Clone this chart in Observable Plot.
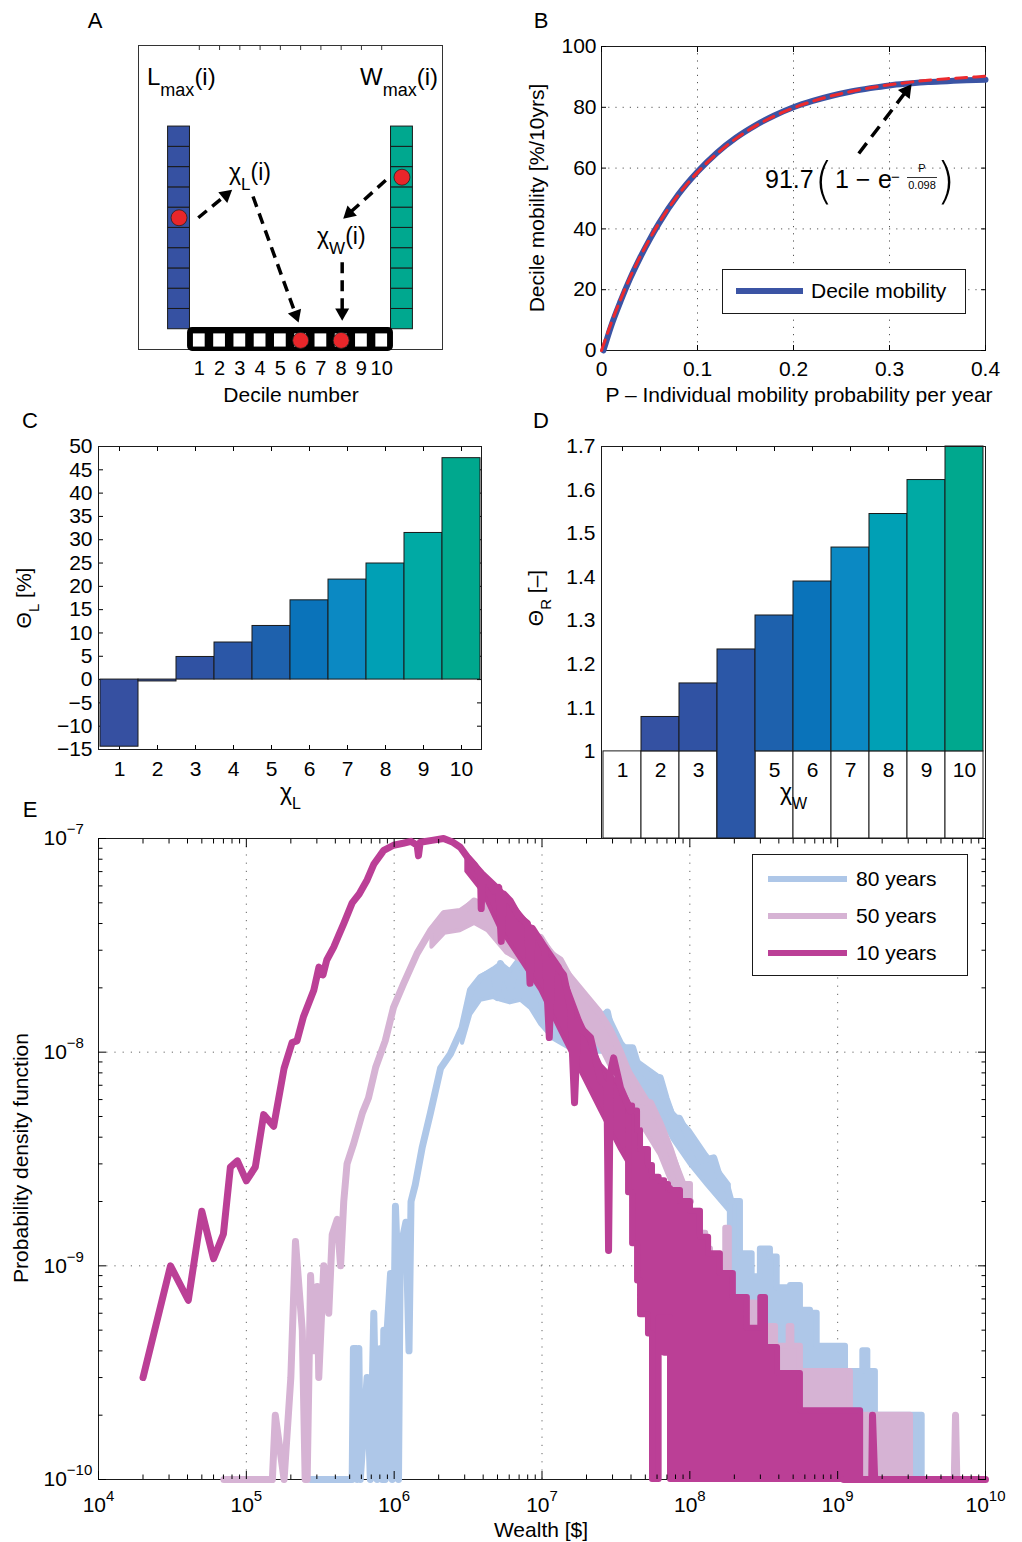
<!DOCTYPE html>
<html>
<head>
<meta charset="utf-8">
<script src="https://cdn.jsdelivr.net/npm/d3@7"></script>
<script src="https://cdn.jsdelivr.net/npm/@observablehq/plot@0.6"></script>
<style>
  html,body{margin:0;padding:0;background:#fff;}
  #fig{position:relative;width:1022px;height:1542px;overflow:hidden;background:#fff;font-family:"Liberation Sans",Arial,Helvetica,sans-serif;}
  #fig > svg{position:absolute;overflow:visible;}
</style>
</head>
<body>
<div id="fig"></div>
<script>
// ======================= DATA =======================
// Panel A (schematic)
const deciles = [1, 2, 3, 4, 5, 6, 7, 8, 9, 10];
const chiLExample = 6;   // decile of the loser (red dot)
const chiWExample = 8;   // decile of the winner (red dot)
const arrowsA = [
  {x1: 0.95, y1: 6.5, x2: 2.62, y2: 7.88},
  {x1: 3.65, y1: 7.55, x2: 5.9, y2: 1.33},
  {x1: 10.2, y1: 8.35, x2: 8.1, y2: 6.45},
  {x1: 8.05, y1: 4.3, x2: 8.05, y2: 1.42}
];

// Panel B
const pBlue = [0.002, 0.01, 0.02, 0.03, 0.04, 0.05, 0.06, 0.08, 0.10, 0.12, 0.14, 0.16, 0.18, 0.20, 0.22, 0.24, 0.26, 0.28, 0.30, 0.32, 0.34, 0.36, 0.38, 0.40];
const decileMobility = [0, 8.0, 16.3, 23.8, 30.4, 36.4, 41.9, 51.3, 58.8, 65.0, 70.0, 74.0, 77.3, 80.0, 82.1, 83.8, 85.2, 86.3, 87.2, 87.8, 88.3, 88.6, 88.9, 89.1];
const pFit = [0, 0.01, 0.02, 0.03, 0.04, 0.05, 0.06, 0.08, 0.10, 0.12, 0.14, 0.16, 0.18, 0.20, 0.22, 0.24, 0.26, 0.28, 0.30, 0.32, 0.34, 0.36, 0.38, 0.40];
const fitMobility = [0, 8.9, 16.9, 24.2, 30.7, 36.6, 42.0, 51.2, 58.6, 64.7, 69.7, 73.8, 77.1, 79.8, 82.0, 83.8, 85.2, 86.4, 87.4, 88.2, 88.9, 89.4, 89.8, 90.2];
const bXTicks = [0, 0.1, 0.2, 0.3, 0.4];
const bYTicks = [0, 20, 40, 60, 80, 100];
const arrowB = [{x1: 0.268, y1: 64.8, x2: 0.323, y2: 87.6}];

// Panel C
const chiL = [1, 2, 3, 4, 5, 6, 7, 8, 9, 10];
const thetaL = [-14.4, -0.4, 4.85, 7.95, 11.5, 17.0, 21.45, 24.9, 31.45, 47.5];
const cYTicks = [-15, -10, -5, 0, 5, 10, 15, 20, 25, 30, 35, 40, 45, 50];

// Panel D
const chiW = [1, 2, 3, 4, 5, 6, 7, 8, 9, 10];
const thetaR = [1.0, 1.079, 1.156, 1.234, 1.312, 1.39, 1.468, 1.545, 1.623, 1.70];
const dBarBase = [1, 1, 1, 0.8, 1, 1, 1, 1, 1, 1];
const dYTicks = [1, 1.1, 1.2, 1.3, 1.4, 1.5, 1.6, 1.7];

const decileColors = ["#3650a1", "#3451a2", "#3052a3", "#2b57a7", "#1e61ad", "#0a73ba", "#0b89c3", "#00a0b5", "#00aaa4", "#00a88e"];

// Panel E : [wealth, pdf]  (1e-10 = plotted floor)
const line80 = [
  [2.72e5,1e-10],[5.2e5,1e-10],[5.3e5,4.1e-10],[5.55e5,4.1e-10],[5.62e5,1e-10],[5.77e5,4.1e-10],[5.9e5,1e-10],
  [6.56e5,3.0e-10],[6.9e5,1e-10],[7.28e5,6.0e-10],[7.67e5,1e-10],[8.09e5,4.1e-10],[8.3e5,1e-10],[8.51e5,5e-10],
  [8.7e5,1e-10],[8.97e5,5e-10],[9.45e5,9.2e-10],[9.7e5,1e-10],[1.02e6,1.9e-9],[1.05e6,1.1e-9],[1.07e6,1e-10],
  [1.1e6,1.2e-9],[1.2e6,1.6e-9],[1.26e6,4.0e-10],[1.3e6,2.0e-9],[1.39e6,2.4e-9],[1.55e6,3.6e-9],[1.76e6,5.2e-9],
  [2.06e6,8.4e-9],[2.4e6,9.8e-9],[2.88e6,1.3e-8],[3.28e6,1.95e-8],[3.84e6,2.24e-8],[4.72e6,2.4e-8],[5.0e6,1.8e-8],
  [5.24e6,2.6e-8],[6.12e6,2.0e-8],[7.16e6,2.8e-8],[8.36e6,2.1e-8],[9.77e6,1.8e-8],[1.06e7,1.45e-8],[1.23e7,1.5e-8],
  [1.44e7,1.4e-8],[1.9e7,1.2e-8],[2.5e7,1.3e-8],[2.77e7,1.54e-8],[3.0e7,1.2e-8],[3.5e7,1.05e-8],[4.1e7,1.05e-8],
  [4.5e7,8.5e-9],[5.2e7,7.8e-9],[6.3e7,7.6e-9],[6.9e7,6.1e-9],[7.7e7,4.9e-9],[8.5e7,4.9e-9],[9.5e7,4.2e-9],
  [1.06e8,3.6e-9],[1.2e8,3.1e-9],[1.45e8,3.2e-9],[1.62e8,2.5e-9],[1.8e8,2.3e-9],[1.9e8,2.0e-9]
];
// [wealth, low, high] : spread of the noisy histogram around its main trend
const noise80 = [
  [2.9e6,1.1e-8,1.35e-8],[3.3e6,1.5e-8,1.95e-8],[3.85e6,1.75e-8,2.25e-8],[4.7e6,1.8e-8,2.45e-8],[5.3e6,1.75e-8,2.6e-8],
  [6.1e6,1.7e-8,2.4e-8],[7.2e6,1.75e-8,2.8e-8],[8.4e6,1.6e-8,2.2e-8],[9.8e6,1.35e-8,1.9e-8],[1.2e7,1.15e-8,1.55e-8],
  [1.5e7,1.05e-8,1.45e-8],[2.0e7,1.0e-8,1.3e-8],[2.75e7,1.0e-8,1.55e-8],[3.5e7,8.0e-9,1.1e-8],[4.5e7,6.3e-9,9.0e-9],
  [6.0e7,5.5e-9,7.8e-9],[7.7e7,3.9e-9,5.2e-9],[1.0e8,3.0e-9,4.3e-9],[1.3e8,2.4e-9,3.3e-9],[1.85e8,1.8e-9,2.4e-9]
];
// [wealth, low, high] : range swept by the rapidly oscillating tail
const band80 = [
  [1.88e8,1e-10,2.0e-9],[2.2e8,1e-10,1.14e-9],[2.64e8,1e-10,8.9e-10],[3.0e8,1e-10,1.2e-9],[3.51e8,1e-10,1.1e-9],
  [3.9e8,1e-10,7.9e-10],[4.8e8,1e-10,8.1e-10],[5.6e8,1e-10,6.2e-10],[6.55e8,1e-10,6.0e-10],[7.27e8,1e-10,4.2e-10],
  [1.13e9,1e-10,3.2e-10],[1.48e9,1e-10,4.0e-10],[1.6e9,1e-10,3.2e-10],[1.8e9,1e-10,2.0e-10],[3.73e9,1e-10,2.0e-10]
];
const line50 = [
  [7.05e4,1e-10],[1.5e5,1e-10],[1.57e5,2.0e-10],[1.8e5,1e-10],[2.0e5,3.0e-10],[2.15e5,1.3e-9],[2.39e5,5e-10],
  [2.5e5,1e-10],[2.58e5,1e-10],[2.72e5,9e-10],[2.86e5,4e-10],[3.02e5,8e-10],[3.09e5,3e-10],[3.34e5,1.0e-9],
  [3.61e5,6e-10],[3.81e5,1.4e-9],[4.12e5,1.65e-9],[4.34e5,1.0e-9],[4.56e5,2.0e-9],[4.8e5,3.0e-9],[5.3e5,3.7e-9],
  [6.1e5,5.2e-9],[6.7e5,6.1e-9],[7.5e5,8.5e-9],[8.7e5,1.13e-8],[9.9e5,1.62e-8],[1.16e6,2.1e-8],[1.43e6,2.9e-8],
  [1.76e6,3.7e-8],[2.17e6,4.45e-8],[2.8e6,4.45e-8],[3.47e6,5.1e-8],[4.26e6,4.8e-8],[5.0e6,4.3e-8],[5.8e6,3.45e-8],
  [7.0e6,3.6e-8],[8.36e6,3.45e-8],[9.77e6,3.45e-8],[1.14e7,2.9e-8],[1.33e7,2.7e-8],[1.56e7,2.2e-8],[1.82e7,1.9e-8],
  [2.13e7,1.7e-8],[2.49e7,1.5e-8],[2.9e7,1.27e-8],[3.4e7,1.0e-8],[3.97e7,7.6e-9],[4.64e7,5.9e-9],[5.42e7,5.8e-9],
  [6.34e7,4.6e-9],[7.4e7,3.5e-9],[8.65e7,2.5e-9],[1.01e8,2.0e-9],
  [NaN,NaN],
  [6.15e9,1e-10],[6.27e9,2e-10],[6.4e9,1e-10]
];
const noise50 = [
  [1.8e6,3.1e-8,3.8e-8],[2.2e6,3.6e-8,4.5e-8],[2.8e6,3.7e-8,4.6e-8],[3.5e6,4.0e-8,5.1e-8],[4.3e6,3.7e-8,4.9e-8],
  [5.8e6,2.9e-8,3.9e-8],[7.0e6,2.7e-8,3.7e-8],[9.8e6,2.5e-8,3.45e-8],[1.56e7,1.6e-8,2.3e-8],[2.5e7,1.05e-8,1.55e-8],
  [4.0e7,5.5e-9,8.0e-9],[6.3e7,3.3e-9,4.8e-9],[1.0e8,1.5e-9,2.1e-9]
];
const band50 = [
  [8.65e7,1e-10,2.4e-9],[1.01e8,1e-10,1.8e-9],[1.18e8,1e-10,1.42e-9],[1.28e8,1e-10,1.2e-9],[1.38e8,1e-10,9.5e-10],
  [1.75e8,1e-10,1.5e-9],[1.85e8,1e-10,7.1e-10],[2.38e8,1e-10,6.7e-10],[2.78e8,1e-10,5.4e-10],[3.25e8,1e-10,5.2e-10],
  [3.8e8,1e-10,4.2e-10],[4.7e8,1e-10,5.2e-10],[4.9e8,1e-10,4.2e-10],[5.6e8,1e-10,3.2e-10],[1.22e9,1e-10,2.0e-10],
  [3.11e9,1e-10,2.0e-10]
];
const line10 = [
  [2.0e4,3.0e-10],[3.07e4,1.0e-9],[4.05e4,6.9e-10],[5.0e4,1.8e-9],[6.0e4,1.08e-9],[7.0e4,1.41e-9],[7.8e4,2.9e-9],
  [8.7e4,3.1e-9],[1.0e5,2.5e-9],[1.15e5,2.9e-9],[1.31e5,5.1e-9],[1.53e5,4.5e-9],[1.8e5,8.4e-9],[2.04e5,1.11e-8],
  [2.2e5,1.13e-8],[2.43e5,1.46e-8],[2.86e5,1.95e-8],[3.1e5,2.5e-8],[3.3e5,2.3e-8],[3.5e5,2.7e-8],[3.9e5,3.1e-8],
  [4.2e5,3.5e-8],[4.56e5,4.0e-8],[5.2e5,5.0e-8],[5.8e5,5.5e-8],[6.56e5,6.4e-8],[7.3e5,7.6e-8],[8.5e5,8.8e-8],
  [9.9e5,9.3e-8],[1.15e6,9.5e-8],[1.3e6,9.7e-8],[1.43e6,9.3e-8],[1.46e6,8.3e-8],[1.5e6,9.6e-8],[1.8e6,9.8e-8],
  [2.16e6,1.0e-7],[2.5e6,9.6e-8],[2.8e6,9.1e-8],[3.12e6,8.2e-8],[3.5e6,7.5e-8],[3.84e6,6.8e-8],[3.88e6,4.7e-8],
  [3.95e6,6.6e-8],[4.4e6,6.2e-8],[4.72e6,5.7e-8],[5.1e6,5.9e-8],[5.3e6,3.3e-8],[5.5e6,5.5e-8],[6.1e6,5.1e-8],
  [7.0e6,4.3e-8],[7.98e6,4.0e-8],[8.3e6,2.1e-8],[8.6e6,3.8e-8],[9.8e6,3.3e-8],[1.05e7,3.0e-8],[1.12e7,1.17e-8],
  [1.17e7,2.7e-8],[1.4e7,2.3e-8],[1.56e7,1.6e-8],[1.66e7,5.8e-9],[1.75e7,1.4e-8],[1.82e7,1.3e-8],[2.13e7,1.17e-8],
  [2.49e7,7.4e-9],[2.75e7,6.9e-9],[2.82e7,1.18e-9],[2.9e7,8.0e-9],[3.05e7,9.4e-9],[3.4e7,6.8e-9],[3.97e7,5.3e-9],
  [NaN,NaN],
  [1.1e9,1e-10],[1.7e9,1e-10],[1.72e9,2e-10],[1.78e9,1e-10],[1.0e10,1e-10]
];
const noise10 = [
  [3.1e6,7.0e-8,8.4e-8],[4.0e6,5.6e-8,6.9e-8],[5.2e6,3.8e-8,5.8e-8],[7.2e6,2.7e-8,4.4e-8],[9.8e6,1.95e-8,3.4e-8],
  [1.33e7,1.26e-8,2.5e-8],[1.82e7,8.2e-9,1.4e-8],[2.5e7,5.3e-9,8.7e-9],[3.4e7,3.5e-9,6.9e-9],[4.1e7,2.8e-9,5.4e-9]
];
const band10 = [
  [3.85e7,2.2e-9,5.6e-9],[4.1e7,1.27e-9,5.3e-9],[4.43e7,8.5e-10,4.3e-9],[4.64e7,5.9e-10,3.5e-9],[5.25e7,4.8e-10,2.95e-9],
  [5.59e7,1e-10,2.6e-9],[6.2e7,5.7e-10,2.5e-9],[6.75e7,3.9e-10,2.4e-9],[7.18e7,5.7e-10,2.3e-9],[7.4e7,1e-10,2.25e-9],
  [8.65e7,1e-10,2.0e-9],[1.01e8,1e-10,1.8e-9],[1.18e8,1e-10,1.36e-9],[1.34e8,1e-10,1.14e-9],[1.61e8,1e-10,9.2e-10],
  [1.97e8,1e-10,7.1e-10],[2.45e8,1e-10,5.1e-10],[3.02e8,1e-10,7.1e-10],[3.25e8,1e-10,4.15e-10],[3.92e8,1e-10,3.13e-10],
  [5.6e8,1e-10,2.1e-10],[1.13e9,1e-10,2.1e-10],[1.43e9,1e-10,2.0e-10]
];
const eXMajor = [1e4, 1e5, 1e6, 1e7, 1e8, 1e9, 1e10];
const eYMajor = [1e-10, 1e-9, 1e-8, 1e-7];
const minorMultipliers = [2, 3, 4, 5, 6, 7, 8, 9];
const seriesE = [
  {label: "80 years", color: "#aec7e8", line: line80, noise: noise80, band: band80},
  {label: "50 years", color: "#d6b3d4", line: line50, noise: noise50, band: band50},
  {label: "10 years", color: "#bb3f96", line: line10, noise: noise10, band: band10}
];
const legendOrder = ["80 years", "50 years", "10 years"];

// ======================= HELPERS =======================
const fig = document.getElementById("fig");
const FONT = '"Liberation Sans", Arial, Helvetica, sans-serif';
const INK = "#1a1a1a";
const baseStyle = {fontFamily: FONT, fontSize: "21px", color: "#000", background: "transparent", overflow: "visible"};
function place(svg, left, top) {
  svg.style.position = "absolute";
  svg.style.left = left + "px";
  svg.style.top = top + "px";
  fig.appendChild(svg);
}
function arrowMarks(arrows, kx, ky, {width = 3.5, dash = "11,7", r = 5} = {}) {
  const tip = 2 * Math.sqrt(Math.PI * r * r / (Math.sqrt(3) * 3));
  const rows = arrows.map(a => {
    const dxp = (a.x2 - a.x1) * kx, dyp = (a.y2 - a.y1) * ky;
    const len = Math.hypot(dxp, dyp);
    return {...a, cx: a.x2 - (dxp / len) * tip / kx, cy: a.y2 - (dyp / len) * tip / ky,
            rot: Math.atan2(dxp, dyp) * 180 / Math.PI};
  });
  return [
    Plot.link(rows, {x1: "x1", y1: "y1", x2: "cx", y2: "cy", stroke: "#000", strokeWidth: width, strokeDasharray: dash}),
    Plot.dot(rows, {x: "cx", y: "cy", symbol: "triangle", r, fill: "#000", stroke: "none", rotate: "rot"})
  ];
}
const blankFmt = () => "";

// ======================= PANEL A =======================
{
  const W = 330, H = 410, ml = 8, mr = 18, mt = 45, mb = 61;
  const kx = (W - ml - mr) / 15, ky = (H - mt - mb) / 15;
  const cells = deciles;
  const svg = Plot.plot({
    width: W, height: H, marginLeft: ml, marginRight: mr, marginTop: mt, marginBottom: mb,
    style: baseStyle,
    x: {domain: [-2, 13]}, y: {domain: [0, 15], axis: null},
    marks: [
      Plot.frame({stroke: "#333"}),
      Plot.axisX(deciles, {anchor: "top", tickSize: -4, tickFormat: blankFmt, label: null, stroke: "#333"}),
      Plot.axisX(deciles, {anchor: "bottom", tickSize: 0, tickPadding: 11, fontSize: 20, label: null}),
      Plot.rect(cells, {x1: () => -0.54, x2: () => 0.54, y1: d => d, y2: d => d + 1, fill: "#3651a2", stroke: INK, strokeWidth: 1}),
      Plot.rect(cells, {x1: () => 10.46, x2: () => 11.54, y1: d => d, y2: d => d + 1, fill: "#00a88f", stroke: INK, strokeWidth: 1}),
      Plot.rect([deciles], {x1: d => d3.min(d) - 0.58, x2: d => d3.max(d) + 0.58, y1: () => -0.1, y2: () => 1.08, fill: "#000", rx: 5}),
      Plot.rect(deciles, {x1: d => d - 0.29, x2: d => d + 0.29, y1: () => 0.12, y2: () => 0.77, fill: "#fff"}),
      Plot.dot([{x: 0, y: chiLExample + 0.5}, {x: 11, y: chiWExample + 0.5}, {x: chiLExample, y: 0.45}, {x: chiWExample, y: 0.45}],
        {x: "x", y: "y", r: 8, fill: "#e8262a", stroke: "#222", strokeWidth: 0.8}),
      ...arrowMarks(arrowsA, kx, ky, {width: 3.5, dash: "11,7", r: 5.2})
    ]
  });
  place(svg, 130, 0);
}

// ======================= PANEL B =======================
{
  const W = 502, H = 390, ml = 81, mr = 37, mt = 16, mb = 70;
  const kx = (W - ml - mr) / 0.4, ky = (H - mt - mb) / 100;
  const blue = pBlue.map((p, i) => ({p, v: decileMobility[i]}));
  const red = pFit.map((p, i) => ({p, v: fitMobility[i]}));
  const grid = {stroke: "#555", strokeOpacity: 1, strokeWidth: 1, strokeDasharray: "1.2,6"};
  const svg = Plot.plot({
    width: W, height: H, marginLeft: ml, marginRight: mr, marginTop: mt, marginBottom: mb,
    style: baseStyle,
    x: {domain: [0, 0.4]}, y: {domain: [0, 100]},
    marks: [
      Plot.gridX(bXTicks.slice(1, -1), grid),
      Plot.gridY(bYTicks.slice(1, -1), grid),
      Plot.frame({stroke: INK}),
      Plot.axisX(bXTicks, {anchor: "bottom", tickSize: -5, tickPadding: 15.5, fontSize: 21, label: null,
        tickFormat: d => (d === 0 ? "0" : String(d))}),
      Plot.axisX(bXTicks, {anchor: "top", tickSize: -5, tickFormat: blankFmt, label: null}),
      Plot.axisY(bYTicks, {anchor: "left", tickSize: -5, tickPadding: 10, fontSize: 21, label: null}),
      Plot.axisY(bYTicks, {anchor: "right", tickSize: -5, tickFormat: blankFmt, label: null}),
      Plot.line(blue, {x: "p", y: "v", stroke: "#3b54a4", strokeWidth: 6, curve: "monotone-x"}),
      Plot.line(red, {x: "p", y: "v", stroke: "#ec2a2e", strokeWidth: 3, strokeDasharray: "11,7", curve: "monotone-x"}),
      ...arrowMarks(arrowB, kx, ky, {width: 3.5, dash: "13,8", r: 5.5})
    ]
  });
  place(svg, 520, 30);
}

// ======================= PANEL C =======================
{
  const svg = Plot.plot({
    width: 500, height: 400, marginLeft: 98, marginRight: 19, marginTop: 26, marginBottom: 71,
    style: baseStyle,
    x: {type: "band", domain: chiL, padding: 0},
    y: {domain: [-15, 50]},
    marks: [
      Plot.axisY(cYTicks, {anchor: "left", tickSize: -5, tickPadding: 11, fontSize: 21, label: null}),
      Plot.axisY(cYTicks, {anchor: "right", tickSize: -5, tickFormat: blankFmt, label: null}),
      Plot.axisX(chiL, {anchor: "bottom", tickSize: -4, tickPadding: 15.5, fontSize: 21, label: null}),
      Plot.axisX(chiL, {anchor: "top", tickSize: -4, tickFormat: blankFmt, label: null}),
      Plot.barY(chiL, {x: d => d, y1: () => 0, y2: (d, i) => thetaL[i], fill: (d, i) => decileColors[i], stroke: INK, strokeWidth: 1}),
      Plot.frame({stroke: INK})
    ]
  });
  place(svg, 0, 420);
}

// ======================= PANEL D =======================
{
  const svg = Plot.plot({
    width: 512, height: 420, marginLeft: 91, marginRight: 37, marginTop: 26, marginBottom: 2,
    style: baseStyle,
    x: {type: "band", domain: chiW, padding: 0},
    y: {domain: [0.8, 1.7]},
    marks: [
      Plot.axisY(dYTicks, {anchor: "left", tickSize: 0, tickPadding: 6, fontSize: 21, label: null,
        tickFormat: d => (d === 1 ? "1" : d.toFixed(1))}),
      Plot.axisX(chiW, {anchor: "top", tickSize: -4, tickFormat: blankFmt, label: null}),
      Plot.barY(chiW, {x: d => d, y1: () => 0.8, y2: () => 1, fill: "#fff", stroke: INK, strokeWidth: 1}),
      Plot.text(chiW, {x: d => d, y: () => 1, dy: 19, text: d => String(d), fontSize: 21}),
      Plot.barY(chiW, {x: d => d, y1: (d, i) => dBarBase[i], y2: (d, i) => thetaR[i], fill: (d, i) => decileColors[i], stroke: INK, strokeWidth: 1}),
      Plot.frame({stroke: INK})
    ]
  });
  place(svg, 510, 420);
}

// ======================= PANEL E =======================
{
  const xMinor = eXMajor.slice(0, -1).flatMap(m => minorMultipliers.map(k => k * m));
  const yMinor = eYMajor.slice(0, -1).flatMap(m => minorMultipliers.map(k => k * m));
  const expFmt = d => "10^" + String(Math.round(Math.log10(d))).replace("-", "\u2212");
  const grid = {stroke: "#666", strokeOpacity: 1, strokeWidth: 1, strokeDasharray: "1.2,7"};
  const seriesMarks = seriesE.flatMap(s => [
    Plot.areaY(s.noise, {x: d => d[0], y1: d => d[1], y2: d => d[2],
      fill: s.color, stroke: s.color, strokeWidth: 4, strokeLinejoin: "round"}),
    Plot.areaY(s.band, {x: d => d[0], y1: d => d[1], y2: d => d[2], curve: "step-after",
      fill: s.color, stroke: s.color, strokeWidth: 6, strokeLinejoin: "round"}),
    Plot.line(s.line, {x: d => d[0], y: d => d[1], stroke: s.color, strokeWidth: 7,
      strokeLinejoin: "round", strokeLinecap: "round"})
  ]);
  const svg = Plot.plot({
    width: 1022, height: 722, marginLeft: 98, marginRight: 37, marginTop: 18, marginBottom: 63,
    style: baseStyle,
    x: {type: "log", domain: [1e4, 1e10]},
    y: {type: "log", domain: [1e-10, 1e-7]},
    marks: [
      Plot.gridX(eXMajor.slice(1, -1), grid),
      Plot.gridY(eYMajor.slice(1, -1), grid),
      Plot.frame({stroke: INK}),
      ...seriesMarks,
      Plot.axisX(eXMajor, {anchor: "bottom", tickSize: -8, tickPadding: 26, fontSize: 21, label: null, tickFormat: expFmt}),
      Plot.axisX(xMinor, {anchor: "bottom", tickSize: -4.5, tickFormat: blankFmt, label: null}),
      Plot.axisX(eXMajor, {anchor: "top", tickSize: -8, tickFormat: blankFmt, label: null}),
      Plot.axisX(xMinor, {anchor: "top", tickSize: -4.5, tickFormat: blankFmt, label: null}),
      Plot.axisY(eYMajor, {anchor: "left", tickSize: -8, tickPadding: 63, textAnchor: "start", fontSize: 21, label: null, tickFormat: expFmt}),
      Plot.axisY(yMinor, {anchor: "left", tickSize: -4.5, tickFormat: blankFmt, label: null}),
      Plot.axisY(eYMajor, {anchor: "right", tickSize: -8, tickFormat: blankFmt, label: null}),
      Plot.axisY(yMinor, {anchor: "right", tickSize: -4.5, tickFormat: blankFmt, label: null})
    ]
  });
  d3.select(svg).selectAll("text").each(function () {
    const t = this.textContent;
    if (!t || t.indexOf("^") < 0) return;
    const [b, e] = t.split("^");
    const s = d3.select(this);
    s.text(null);
    s.append("tspan").text(b);
    s.append("tspan").attr("dy", -11).attr("font-size", 15).text(e);
  });
  place(svg, 0, 820);
}

// ======================= TEXT / LEGEND OVERLAY =======================
const ov = d3.create("svg").attr("width", 1022).attr("height", 1542)
  .style("left", "0px").style("top", "0px").style("pointer-events", "none")
  .attr("font-family", FONT);
function txt(x, y, parts, o = {}) {
  const size = o.size ?? 21;
  const by = o.center ? 0.35 * size : 0;
  const tr = o.rotate ? `translate(${x + by},${y}) rotate(${o.rotate})` : `translate(${x},${y + by})`;
  const t = ov.append("text").attr("transform", tr).attr("font-size", size)
    .attr("text-anchor", o.anchor ?? "start").attr("fill", "#000");
  if (o.family) t.attr("font-family", o.family);
  if (o.weight) t.attr("font-weight", o.weight);
  let cur = 0;
  for (const p of (typeof parts === "string" ? [parts] : parts)) {
    const q = typeof p === "string" ? {t: p} : p;
    const off = q.sub ? (q.off ?? 0.42 * size) : q.sup ? -(q.off ?? 0.42 * size) : 0;
    const ts = t.append("tspan").text(q.t);
    if (off !== cur) { ts.attr("dy", off - cur); cur = off; }
    if (q.sub || q.sup) ts.attr("font-size", q.size ?? 0.72 * size);
  }
  return t;
}
// panel letters
txt(95, 28, "A", {size: 22, anchor: "middle"});
txt(541, 28, "B", {size: 22, anchor: "middle"});
txt(30, 428, "C", {size: 22, anchor: "middle"});
txt(541, 428, "D", {size: 22, anchor: "middle"});
txt(30, 817, "E", {size: 22, anchor: "middle"});
// panel A annotations
txt(147, 85, ["L", {t: "max", sub: true, off: 11, size: 18}, "(i)"], {size: 24});
txt(438, 85, ["W", {t: "max", sub: true, off: 11, size: 18}, "(i)"], {size: 24, anchor: "end"});
txt(229, 180, ["\u03c7", {t: "L", sub: true, off: 10, size: 17}, "(i)"], {size: 23});
txt(317, 244, ["\u03c7", {t: "W", sub: true, off: 10, size: 17}, "(i)"], {size: 23});
txt(291, 402, "Decile number", {size: 21, anchor: "middle"});
// panel B labels
txt(537, 198, "Decile mobility [%/10yrs]", {size: 21, anchor: "middle", rotate: -90, center: true});
txt(799, 402, "P \u2013 Individual mobility probability per year", {size: 21, anchor: "middle"});
// formula
txt(765, 188, "91.7", {size: 25});
txt(814, 198, "(", {size: 50, family: "DejaVu Sans", weight: 200});
txt(835, 188, "1 \u2212", {size: 25});
txt(878, 188, "e", {size: 25});
txt(891, 182, "\u2212", {size: 15});
txt(922, 172, "P", {size: 11, anchor: "middle"});
ov.append("line").attr("x1", 907).attr("x2", 937).attr("y1", 177.5).attr("y2", 177.5).attr("stroke", "#000").attr("stroke-width", 0.8);
txt(922, 189, "0.098", {size: 11, anchor: "middle"});
txt(936, 198, ")", {size: 50, family: "DejaVu Sans", weight: 200});
// legend B
ov.append("rect").attr("x", 722.5).attr("y", 269.5).attr("width", 243).attr("height", 44).attr("fill", "#fff").attr("stroke", INK);
ov.append("line").attr("x1", 736).attr("x2", 803).attr("y1", 291).attr("y2", 291).attr("stroke", "#3b54a4").attr("stroke-width", 6);
txt(811, 291, "Decile mobility", {size: 21, center: true});
// panel C / D labels
txt(280, 800, ["\u03c7", {t: "L", sub: true, off: 9, size: 16}], {size: 23});
txt(24, 598, ["\u0398", {t: "L", sub: true, off: 8, size: 15}, " [%]"], {size: 21, anchor: "middle", rotate: -90, center: true});
txt(780, 800, ["\u03c7", {t: "W", sub: true, off: 9, size: 16}], {size: 23});
txt(536, 598, ["\u0398", {t: "R", sub: true, off: 8, size: 15}, " [\u2013]"], {size: 21, anchor: "middle", rotate: -90, center: true});
// panel E labels
txt(541, 1530, "Wealth [$]", {size: 21, anchor: "middle", center: true});
txt(21, 1158, "Probability density function", {size: 21, anchor: "middle", rotate: -90, center: true});
// legend E
ov.append("rect").attr("x", 752.5).attr("y", 854.5).attr("width", 215).attr("height", 121).attr("fill", "#fff").attr("stroke", INK);
legendOrder.forEach((lab, i) => {
  const s = seriesE.find(d => d.label === lab);
  const y = 879 + i * 37;
  ov.append("line").attr("x1", 768).attr("x2", 847).attr("y1", y).attr("y2", y).attr("stroke", s.color).attr("stroke-width", 6);
  txt(856, y, lab, {size: 21, center: true});
});
place(ov.node(), 0, 0);
</script>
</body>
</html>
